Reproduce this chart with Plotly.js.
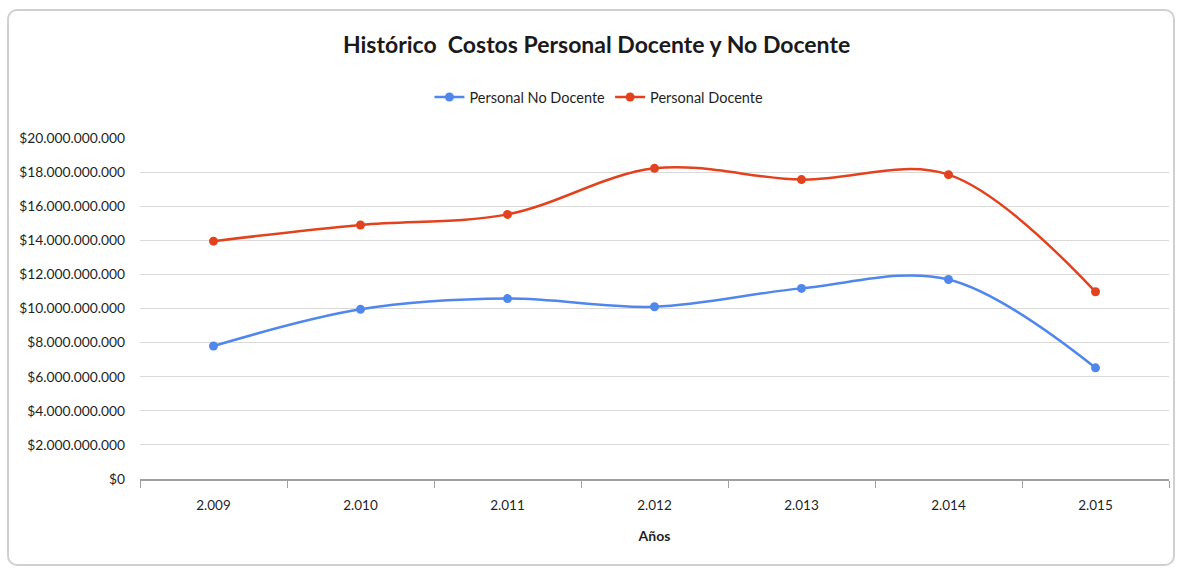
<!DOCTYPE html>
<html>
<head>
<meta charset="utf-8">
<script src="https://cdn.plot.ly/plotly-3.0.1.min.js"></script>
<style>
html,body{margin:0;padding:0;background:#fff;}
#wrap{position:relative;width:1179px;height:569px;}
#chart{position:absolute;left:0;top:0;width:1179px;height:569px;}
#frame{position:absolute;left:7px;top:9px;width:1164px;height:553px;border:2px solid #d0d0d0;border-radius:10px;pointer-events:none;}
</style>
</head>
<body>
<div id="wrap"><div id="chart"></div><div id="frame"></div></div>
<script>
const years = ["2.009","2.010","2.011","2.012","2.013","2.014","2.015"];
const noDocente = [7800000000, 9950000000, 10580000000, 10100000000, 11180000000, 11700000000, 6520000000];
const docente = [13950000000, 14900000000, 15520000000, 18220000000, 17560000000, 17850000000, 10980000000];
const yTicks = [0,2e9,4e9,6e9,8e9,10e9,12e9,14e9,16e9,18e9,20e9];
const yTickText = yTicks.map(v => "$" + String(Math.round(v)).replace(/\B(?=(\d{3})+(?!\d))/g, "."));

const font = "Lato, sans-serif";

const traces = [
  {x: years, y: noDocente, name: "Personal No Docente", type: "scatter", mode: "lines+markers",
   line: {color: "#5087EC", width: 2.5, shape: "spline", smoothing: 1}, marker: {color: "#5087EC", size: 9}},
  {x: years, y: docente, name: "Personal Docente", type: "scatter", mode: "lines+markers",
   line: {color: "#E2431E", width: 2.5, shape: "spline", smoothing: 1}, marker: {color: "#E2431E", size: 9}}
];

const layout = {
  width: 1179, height: 569,
  margin: {l: 140, r: 10, t: 138, b: 90},
  paper_bgcolor: "rgba(0,0,0,0)", plot_bgcolor: "#fff",
  font: {family: font, color: "#1f1f1f", size: 13},
  title: {text: "<b>Histórico  Costos Personal Docente y No Docente</b>", x: 0.506, xanchor: "center", y: 0.921, yanchor: "middle",
    font: {family: font, size: 23, color: "#1a1a1a"}},
  showlegend: true,
  legend: {orientation: "h", x: 0.446, xanchor: "center", y: 1.12, yanchor: "middle", font: {size: 14.5, color: "#1f1f1f"}},
  xaxis: {type: "category", range: [-0.5, 6.5], tickson: "boundaries", ticks: "outside", ticklen: 7, tickcolor: "#a0a0a0",
    showline: true, linecolor: "#a0a0a0", linewidth: 1.5, showgrid: false, zeroline: false,
    ticklabelstandoff: 13,
    tickfont: {size: 13.5}, title: {text: "<b>Años</b>", font: {size: 14}, standoff: 19}},
  yaxis: {range: [0, 20e9], tickvals: yTicks, ticktext: yTickText,
    showgrid: true, gridcolor: "#d9d9d9", gridwidth: 1, zeroline: false, showline: false,
    ticks: "", ticklabelstandoff: 14, tickfont: {size: 13.8}}
};

Plotly.newPlot("chart", traces, layout, {displayModeBar: false, staticPlot: true});
</script>
</body>
</html>
